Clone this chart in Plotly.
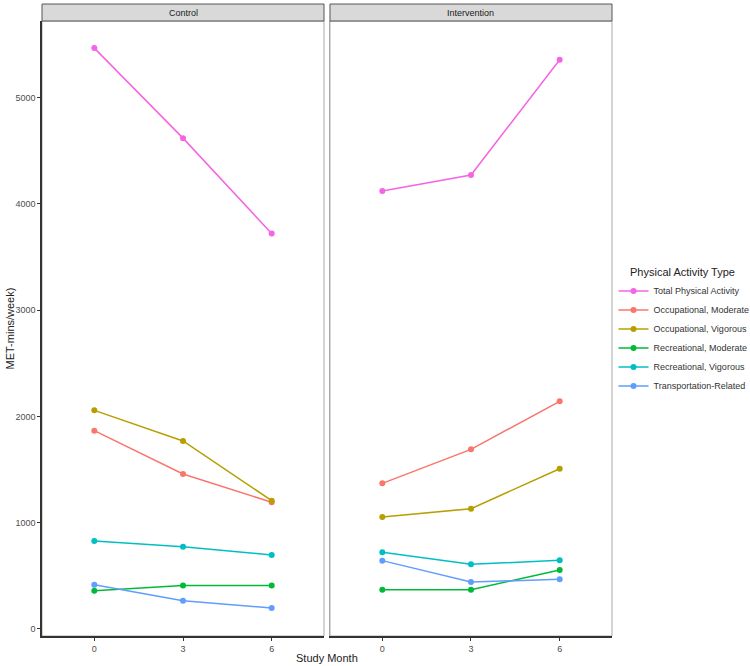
import plotly.graph_objects as go
from plotly.subplots import make_subplots

months = [0, 3, 6]
groups = ["Control", "Intervention"]
activity_types = [
    "Total Physical Activity",
    "Occupational, Moderate",
    "Occupational, Vigorous",
    "Recreational, Moderate",
    "Recreational, Vigorous",
    "Transportation-Related",
]
colors = ["#F564E3", "#F8766D", "#B79F00", "#00BA38", "#00BFC4", "#619CFF"]

# MET-mins/week by activity type, months 0/3/6
control = {
    "Total Physical Activity": [5465, 4618, 3720],
    "Occupational, Moderate": [1866, 1458, 1192],
    "Occupational, Vigorous": [2057, 1769, 1207],
    "Recreational, Moderate": [360, 408, 408],
    "Recreational, Vigorous": [828, 774, 696],
    "Transportation-Related": [417, 266, 198],
}
intervention = {
    "Total Physical Activity": [4120, 4271, 5356],
    "Occupational, Moderate": [1370, 1690, 2142],
    "Occupational, Vigorous": [1054, 1132, 1508],
    "Recreational, Moderate": [370, 370, 555],
    "Recreational, Vigorous": [721, 608, 646],
    "Transportation-Related": [643, 442, 467],
}

fig = make_subplots(rows=1, cols=2, shared_yaxes=True, horizontal_spacing=0.0105)

for col, data in enumerate([control, intervention], start=1):
    for name, color in zip(activity_types, colors):
        fig.add_trace(
            go.Scatter(
                x=months,
                y=data[name],
                mode="lines+markers",
                line=dict(color=color, width=1.5),
                marker=dict(color=color, size=6),
                name=name,
                legendgroup=name,
                showlegend=(col == 1),
            ),
            row=1, col=col,
        )

axis_font = dict(family="Liberation Sans, Arial", size=9, color="#4D4D4D")
title_font = dict(family="Liberation Sans, Arial", size=11, color="#222222")

fig.update_xaxes(
    range=[-1.77, 7.77], tickvals=months, ticktext=[str(m) for m in months],
    showgrid=False, zeroline=False, showline=True, linecolor="#333333", linewidth=1.5,
    ticks="outside", ticklen=3, tickcolor="#333333", tickfont=axis_font, automargin=False,
)
fig.update_yaxes(
    range=[-66, 5720], tickvals=[0, 1000, 2000, 3000, 4000, 5000],
    showgrid=False, zeroline=False, showline=True, linecolor="#333333", linewidth=1.5,
    ticks="outside", ticklen=3, tickcolor="#333333", tickfont=axis_font, automargin=False,
)
fig.update_yaxes(ticks="", showticklabels=False, linecolor="#AAAAAA", linewidth=1, row=1, col=2)

# panel frames and strip headers
for xref, label in [("x domain", "Control"), ("x2 domain", "Intervention")]:
    yref = "y domain" if xref == "x domain" else "y2 domain"
    fig.add_shape(type="rect", xref=xref, yref=yref, x0=0, x1=1, y0=0, y1=1,
                  line=dict(color="#AAAAAA", width=1), fillcolor="rgba(0,0,0,0)", layer="below")
    fig.add_shape(type="rect", xref=xref, yref="paper", x0=0, x1=1, y0=1.0, y1=1.0276,
                  line=dict(color="#555555", width=1), fillcolor="#D9D9D9")
    fig.add_annotation(text=label, xref=xref, yref="paper", x=0.5, y=1.0138, yanchor="middle",
                       showarrow=False, font=dict(family="Liberation Sans, Arial", size=9, color="#1A1A1A"))

fig.add_annotation(text="Study Month", xref="paper", yref="paper", x=0.5, y=0, yshift=-14,
                   yanchor="top", showarrow=False, font=title_font)
fig.add_annotation(text="MET-mins/week)", xref="paper", yref="paper", x=0, xshift=-33, y=0.5,
                   textangle=-90, xanchor="center", yanchor="middle", showarrow=False, font=title_font)
fig.add_annotation(text="Physical Activity Type", xref="paper", yref="paper", x=1.0275, y=0.605,
                   xanchor="left", yanchor="top", showarrow=False, font=title_font)

fig.update_layout(
    width=750, height=666,
    margin=dict(l=42, r=138, t=21, b=30),
    plot_bgcolor="white", paper_bgcolor="white",
    font=dict(family="Liberation Sans, Arial"),
    legend=dict(xref="container", yref="container", x=0.818, y=0.585,
                xanchor="left", yanchor="top", bgcolor="rgba(0,0,0,0)",
                font=dict(family="Liberation Sans, Arial", size=9, color="#333333"),
                tracegroupgap=0, itemwidth=30),
)

fig.write_html("out.html", config={"displayModeBar": False},
               post_script="document.body.style.margin='0';")
